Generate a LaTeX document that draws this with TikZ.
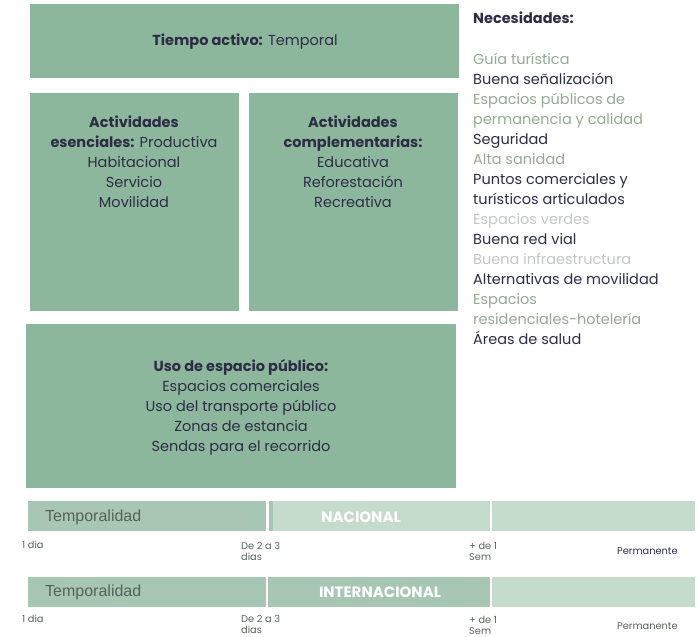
\documentclass[tikz,border=0pt]{standalone}
\usepackage{fontspec}
\setmainfont{Poppins}
\newfontfamily\barfont{Liberation Sans}
\providecommand{\Card}{8DB79C}
\definecolor{box}{HTML}{\Card}
\definecolor{ink}{HTML}{2C2D45}
\definecolor{sage}{HTML}{93AA91}
\definecolor{mist}{HTML}{C3C6C4}
\definecolor{bardark}{HTML}{A7C6B3}
\definecolor{barlight}{HTML}{C5DBCC}
\definecolor{bartext}{HTML}{55625A}
\newcommand{\Txt}{\fontsize{14.5}{20}\selectfont}
\newcommand{\Small}{\fontsize{9.8}{11}\selectfont}

\begin{document}
\begin{tikzpicture}[x=1pt,y=-1pt,
  label/.style={inner sep=0pt, align=center, text=ink, font=\Txt},
  tick/.style={inner sep=0pt, align=left, text=bartext, font=\Small, anchor=north west},
  bartitle/.style={inner sep=0pt, text=white, font=\fontsize{15}{16}\selectfont\bfseries}]
  \useasboundingbox (0,0) rectangle (699,637);

  % ---- the boxes on the left ---------------------------------------------
  \fill[box] (30,4) rectangle (459,78);
  \fill[box] (30,93) rectangle (239,311);
  \fill[box] (249,93) rectangle (458,311);
  \fill[box] (26,324) rectangle (456,488);

  \node[label] (tiempo) at (245,42) {\textbf{Tiempo activo:} Temporal};
  \node[label, anchor=north] (esenciales) at (134,115.5)
    {\textbf{Actividades}\\ \textbf{esenciales:} Productiva\\ Habitacional\\ Servicio\\ Movilidad};
  \node[label, anchor=north] (complementarias) at (353,115.5)
    {\textbf{Actividades}\\ \textbf{complementarias:}\\ Educativa\\ Reforestación\\ Recreativa};
  \node[label, anchor=north] (espacio) at (241,359.5)
    {\textbf{Uso de espacio público:}\\ Espacios comerciales\\ Uso del transporte público\\ Zonas de estancia\\ Sendas para el recorrido};

  % ---- the needs, one colour per line ------------------------------------
  \node[label, anchor=west] (necesidades) at (473,18) {\textbf{Necesidades:}};
  \node[label, align=left, anchor=north west] (lista) at (473,52.5)
    {\color{sage}Guía turística\\
     Buena señalización\\
     \color{sage}Espacios públicos de\\
     \color{sage}permanencia y calidad\\
     Seguridad\\
     \color{sage}Alta sanidad\\
     Puntos comerciales y\\
     turísticos articulados\\
     \color{mist}Espacios verdes\\
     Buena red vial\\
     \color{mist}Buena infraestructura\\
     Alternativas de movilidad\\
     \color{sage}Espacios\\
     \color{sage}residenciales-hotelería\\
     Áreas de salud};

  % ---- the two time bars --------------------------------------------------
  \fill[bardark] (28,501) rectangle (266,531);
  \fill[bardark] (269,501) rectangle (273,531);
  \fill[barlight] (273,501) rectangle (490,531);
  \fill[barlight] (492,501) rectangle (695,531);
  \node[inner sep=0pt, anchor=west, text=bartext, font=\barfont\fontsize{16}{18}\selectfont] (temp1) at (45,517) {Temporalidad};
  \node[bartitle] (nacional) at (361,517) {NACIONAL};

  \fill[bardark] (28,577) rectangle (266,607);
  \fill[bardark] (268,577) rectangle (490,607);
  \fill[barlight] (492,577) rectangle (695,607);
  \node[inner sep=0pt, anchor=west, text=bartext, font=\barfont\fontsize{16}{18}\selectfont] (temp2) at (45,592) {Temporalidad};
  \node[bartitle] (internacional) at (380,592) {INTERNACIONAL};

  % ---- the marks under each bar ------------------------------------------
  \node[tick] (dia1) at (22,540.5) {1 dia};
  \node[tick] (dias1) at (241,542.5) {De 2 a 3\\dias};
  \node[tick] (sem1) at (469,542.5) {+ de 1\\Sem};
  \node[tick, text=ink] (perm1) at (617,547.5) {Permanente};
  \node[tick] (dia2) at (22,614.5) {1 dia};
  \node[tick] (dias2) at (241,615.5) {De 2 a 3\\dias};
  \node[tick] (sem2) at (469,616) {+ de 1\\Sem};
  \node[tick] (perm2) at (617,622) {Permanente};

\end{tikzpicture}
\end{document}
